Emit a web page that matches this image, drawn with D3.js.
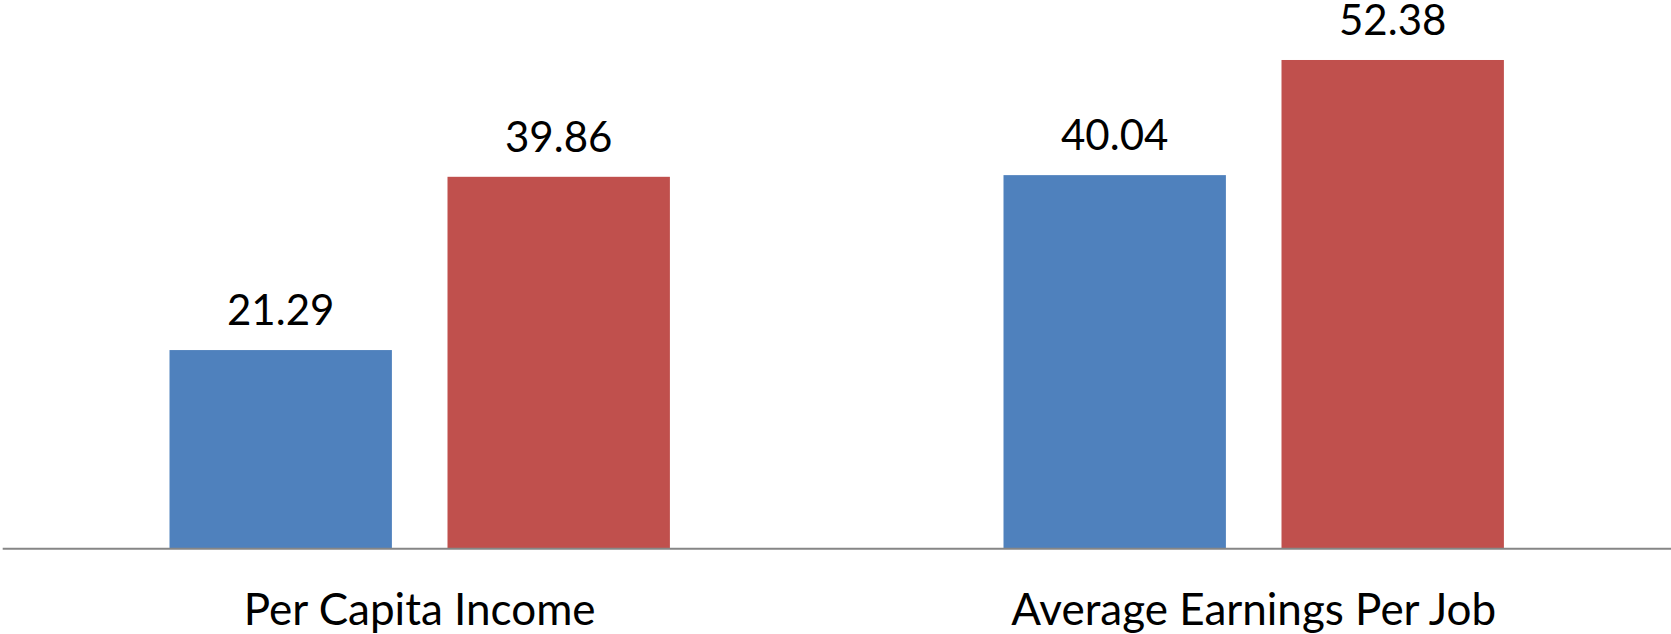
<!DOCTYPE html>
<html>
<head>
<meta charset="utf-8">
<script src="https://cdn.jsdelivr.net/npm/d3@7"></script>
<style>
  html, body { margin: 0; padding: 0; background: #fff; }
  svg { display: block; }
  text { font-family: Lato, "Open Sans", sans-serif; fill: #000; }
</style>
</head>
<body>
<svg id="chart" width="1671" height="634"></svg>
<script>
const categories = ["Per Capita Income", "Average Earnings Per Job"];
const seriesNames = ["Series 1", "Series 2"];
const series1 = [21.29, 40.04];
const series2 = [39.86, 52.38];
const colors = ["#4F81BD", "#C0504D"];

const W = 1671, H = 634;
const baseline = 548.7;
const svg = d3.select("#chart");

const x0 = d3.scaleBand().domain(categories).range([2.7, 1670.7]).paddingInner(0).paddingOuter(0);
const x1 = d3.scaleBand().domain(seriesNames).range([0, x0.bandwidth()]).paddingInner(0.2).paddingOuter(0.6);
const y = d3.scaleLinear().domain([0, 58.81]).range([baseline, 0]);

const rows = categories.map((c, i) => ({ cat: c, vals: [series1[i], series2[i]] }));

const g = svg.append("g");
const groups = g.selectAll("g.grp").data(rows).join("g")
  .attr("class", "grp")
  .attr("transform", d => `translate(${x0(d.cat)},0)`);

groups.selectAll("rect").data(d => d.vals.map((v, j) => ({ v, s: seriesNames[j], j })))
  .join("rect")
  .attr("x", d => x1(d.s))
  .attr("width", x1.bandwidth())
  .attr("y", d => y(d.v))
  .attr("height", d => baseline - y(d.v))
  .attr("fill", d => colors[d.j]);

groups.selectAll("text.val").data(d => d.vals.map((v, j) => ({ v, s: seriesNames[j] })))
  .join("text")
  .attr("class", "val")
  .attr("x", d => x1(d.s) + x1.bandwidth() / 2)
  .attr("y", d => y(d.v) - 25)
  .attr("text-anchor", "middle")
  .attr("font-size", 42)
  .text(d => d3.format(".2f")(d.v));

// x axis
const xAxis = d3.axisBottom(x0).tickSize(0).tickPadding(0);
const ax = svg.append("g").attr("transform", `translate(0,${baseline})`).call(xAxis);
ax.select(".domain").attr("stroke", "#868686").attr("stroke-width", 2).attr("d", `M2.7,0H${W}`);
ax.selectAll(".tick text")
  .attr("font-size", 44)
  .attr("font-family", "Lato, 'Open Sans', sans-serif")
  .attr("fill", "#000")
  .attr("dy", 0)
  .attr("y", 76);
</script>
</body>
</html>
